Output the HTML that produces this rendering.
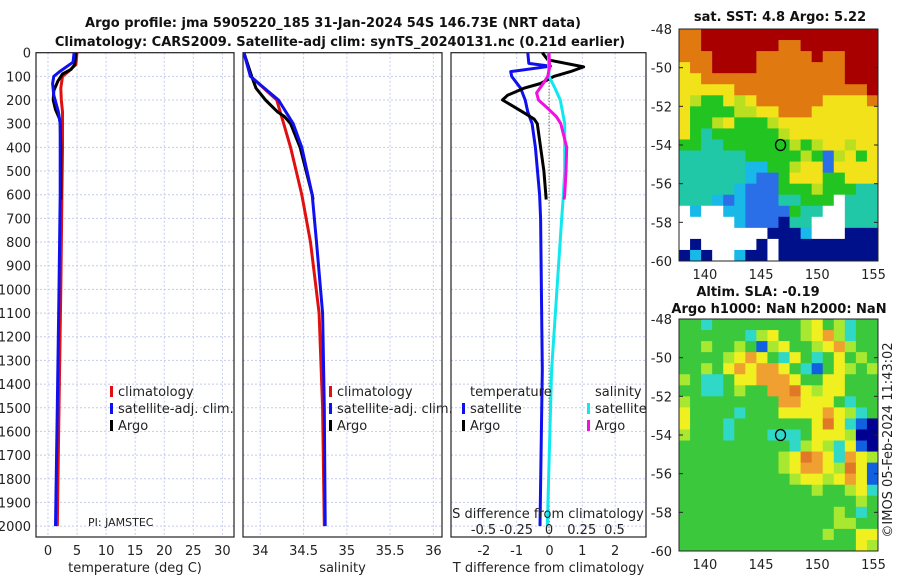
<!DOCTYPE html>
<html><head><meta charset="utf-8">
<style>
body{margin:0;background:#fff;}
svg{display:block;font-family:"DejaVu Sans","Liberation Sans",sans-serif;}
.t{font-size:13px;fill:#222}
.b{font-size:13px;font-weight:bold;fill:#111}
</style></head>
<body>
<svg id="s" width="900" height="580" viewBox="0 0 900 580">
<text class="b" x="333" y="27" text-anchor="middle">Argo profile: jma 5905220_185 31-Jan-2024 54S 146.73E (NRT data)</text>
<text class="b" x="340" y="46" text-anchor="middle">Climatology: CARS2009. Satellite-adj clim: synTS_20240131.nc (0.21d earlier)</text>
<text class="b" x="780" y="21" text-anchor="middle">sat. SST: 4.8 Argo: 5.22</text>
<text class="b" x="758" y="296" text-anchor="middle">Altim. SLA: -0.19</text>
<text class="b" x="779" y="313" text-anchor="middle">Argo h1000: NaN h2000: NaN</text>
<text class="t" transform="translate(892,440) rotate(-90)" text-anchor="middle">©IMOS 05-Feb-2024 11:43:02</text>
<g id="g"></g>
</svg>
<script>
// ---- data ----
const tDepth = [0,50,80,100,150,200,250,300,400,600,1000,1500,2000];
const tClim  = [5.0,4.8,3.5,2.5,2.2,2.3,2.5,2.5,2.5,2.4,2.2,1.9,1.6];
const tSatDepth = [0,40,80,100,130,180,250,300,600,1000,1500,2000];
const tSat   = [4.5,4.3,2.0,1.0,0.8,1.0,1.8,2.1,2.1,1.9,1.6,1.3];
const tArgoDepth = [0,50,70,90,120,160,200,240,280,300,400,620];
const tArgo  = [4.8,4.6,4.0,2.5,1.7,1.0,0.9,1.3,2.0,2.1,2.2,2.2];
const sDepth = [0,100,200,300,400,600,800,1100,1500,2000];
const sClim  = [33.81,33.89,34.19,34.27,34.35,34.48,34.58,34.68,34.72,34.74];
const sSat   = [33.81,33.885,34.21,34.38,34.48,34.6,34.65,34.72,34.74,34.75];
const sArgoDepth = [0,100,150,200,250,270,300,400,600,620];
const sArgo  = [33.81,33.9,33.95,34.06,34.2,34.28,34.35,34.46,34.6,34.61];
const dTSatDepth = [0,45,57,80,100,150,200,250,300,400,600,700,1340,2000];
const dTSat  = [-0.66,-0.63,0.03,-1.18,-1.15,-0.88,-0.74,-0.66,-0.53,-0.43,-0.3,-0.27,-0.22,-0.29];
const dTArgoDepth = [0,30,60,80,100,130,150,180,200,220,250,280,300,400,500,620];
const dTArgo = [-0.22,-0.05,1.04,0.64,0.13,-0.27,-0.78,-1.28,-1.43,-1.18,-0.82,-0.47,-0.37,-0.27,-0.17,-0.1];
const dSSatDepth = [0,100,150,200,300,500,600,700,1340,2000];
const dSSat  = [-0.005,0,0.046,0.086,0.12,0.12,0.11,0.097,0.02,-0.013];
const dSArgoDepth = [0,60,100,130,170,200,230,270,300,400,500,600,620];
const dSArgo = [0,0.005,-0.01,-0.044,-0.095,-0.08,-0.02,0.056,0.09,0.135,0.13,0.12,0.115];
const depthTicks = [0,100,200,300,400,500,600,700,800,900,1000,1100,1200,1300,1400,1500,1600,1700,1800,1900,2000];
const tTicks = [0,5,10,15,20,25,30];
const sTicks = [34,34.5,35,35.5,36];
const dTTicks = [-2,-1,0,1,2];
const dSTicks = [-0.5,-0.25,0,0.25,0.5];
const dSTickLabels = ["-0.5","-0.25","0","0.25","0.5"];
const latTicks = [-48,-50,-52,-54,-56,-58,-60];
const lonTicks = [140,145,150,155];
const argoLon = 146.73, argoLat = -54;
const sstGrid = [
"OORRRRRRRRRRRRRRRR","OORRRRRRROORRRRRRR","OOORRRROOOOOROORRR","YOORRRROOOOOOOORRR",
"YYOOOOOOOOOOOOORRR","YYYYYOOOOOOOOOOOOR","YLGGYLYOOOOOOYYYYO","YGGGGLLYYOOOYYYYYY",
"YGGLYGGGLYYYYYYYYY","YGTGGGGGGLYYYYYYYY","GGTTGGGGGGLGLYYLYY","TTTTTTGGGGGLGBLYGY",
"TTTTTTCCGGLYYBYYYY","TTTTTTCBBGYYYGGYYY","TTTTTCBBBGGGLGGGTT","TTTCBCBBBTTGGGWTTT",
"WCWWCCBBBBGTTWWTTT","WWWWWCBBBNTTWWWTTT","WWWWWWWWNNNCWWWNNN","WNWWWWWNWNNNNNNNNN",
"NCNWWCNNWNNNNNNNNN"];
const slaGrid = [
"GGCGGGGGGGGLYGLCGG","GGGGGGCLYGGLYOLCGG","GGLGGLGBLYGGLYOLGG","GGGGLYOYGCYGCGYGLG",
"GGLGYOYOOYGCBGYLGL","LGCCGYYOOOYGGYYGGG","GGCCGLGGOOAYLYYGGG","LGGGGGGGGOOYYYGCGG",
"YGGGGCGGGYYYYOYLCG","YGGGCGGGGGGGYAYCBN","LGGGCGGGCCCGYYYLNN","GGGGGGGGGGCLYLCYBN",
"GGGGGGGGGLYAOYCOYL","GGGGGGGGGLYOOYLAYB","GGGGGGGGGGLYYLYOYB","GGGGGGGGGGGGLGGLYC",
"GGGGGGGGGGGGGGGGLG","GGGGGGGGGGGGGGLGCG","GGGGGGGGGGGGGGLLGG","GGGGGGGGGGGGGLGGYY",
"GGGGGGGGGGGGGGGGYL"];
const sstColors = {R:"#a80000",O:"#e07a10",Y:"#f2e21a",L:"#b8e020",G:"#22c422",T:"#20c8a8",C:"#18b8e8",B:"#2a6ee8",N:"#00108a",W:"#ffffff"};
const slaColors = {G:"#3cc83c",L:"#a8e830",Y:"#f0f020",O:"#f0a030",A:"#e07828",C:"#30d8c8",B:"#1060e0",N:"#000090"};

const NS="http://www.w3.org/2000/svg";
const g=document.getElementById('g');
function el(t,a,p){const e=document.createElementNS(NS,t);for(const k in a)e.setAttribute(k,a[k]);(p||g).appendChild(e);return e;}
const Y0=52.7, YT=537, yD=d=>Y0+d*0.2367;

function panel(name,x0,x1,xmin,xmax,ticks,labels,title){
  const sx=v=>x0+(v-xmin)/(xmax-xmin)*(x1-x0);
  const pg=el('g',{});
  
  
  depthTicks.forEach(d=>{const l=el('line',{x1:x0,x2:x1,y1:yD(d),y2:yD(d),stroke:'#c4cbee','stroke-width':1,'stroke-dasharray':'2,2'},pg);
    });
  ticks.forEach((v,i)=>{const l=el('line',{x1:sx(v),x2:sx(v),y1:Y0,y2:YT,stroke:'#c4cbee','stroke-width':1,'stroke-dasharray':'2,2'},pg);
    
    const t=el('text',{x:sx(v),y:555,'text-anchor':'middle',class:'t'},pg);t.textContent=labels[i];
    });
  const r=el('rect',{x:x0,y:Y0,width:x1-x0,height:YT-Y0,fill:'none',stroke:'#222','stroke-width':1.2},pg);
  
  const tt=el('text',{x:(x0+x1)/2,y:572,'text-anchor':'middle',class:'t'},pg);tt.textContent=title;
  
  return sx;
}
function line(sx,ds,vs,color,name,w){
  const pts=ds.map((d,i)=>sx(vs[i]).toFixed(1)+','+yD(d).toFixed(1)).join(' ');
  const p=el('polyline',{points:pts,fill:'none',stroke:color,'stroke-width':w||3,'stroke-linejoin':'round'});
  
  
}
function legend(x,y,items){
  items.forEach((it,i)=>{
    if(it[1]){const m=el('rect',{x:x-8,y:y+i*17-10,width:3,height:11,fill:it[1]});
      }
    const t=el('text',{x:x,y:y+i*17,class:'t'});t.textContent=it[0];
    
  });
}
// y tick labels
depthTicks.forEach(d=>{const t=el('text',{x:31,y:yD(d)+5,'text-anchor':'end',class:'t'});t.textContent=d;
  });

const sx1=panel('temperature-panel',36,234,-2.06,32,tTicks,tTicks.map(String),'temperature (deg C)');
line(sx1,tDepth,tClim,'#e01010','temp-climatology-line');
line(sx1,tArgoDepth,tArgo,'#000','temp-argo-line');
line(sx1,tSatDepth,tSat,'#1010ee','temp-satellite-line');
legend(118,396,[["climatology","#e01010"],["satellite-adj. clim.","#1010ee"],["Argo","#000"]]);
const pi=el('text',{x:88,y:526,style:'font-size:11px;fill:#222'});pi.textContent='PI: JAMSTEC';


const sx2=panel('salinity-panel',243,442,33.8,36.1,sTicks,sTicks.map(String),'salinity');
line(sx2,sDepth,sClim,'#e01010','sal-climatology-line');
line(sx2,sArgoDepth,sArgo,'#000','sal-argo-line');
line(sx2,sDepth,sSat,'#1010ee','sal-satellite-line');
legend(337,396,[["climatology","#e01010"],["satellite-adj. clim.","#1010ee"],["Argo","#000"]]);

const sx3=panel('difference-panel',451,646,-3,2.94,dTTicks,dTTicks.map(String),'T difference from climatology');
const sxS=v=>549+v*131;
const z=el('line',{x1:549,x2:549,y1:Y0,y2:YT,stroke:'#444820','stroke-width':1,'stroke-dasharray':'1,2'});

line(sx3,dTSatDepth,dTSat,'#1010ee','dt-satellite-line');
line(sx3,dTArgoDepth,dTArgo,'#000','dt-argo-line');
line(sxS,dSSatDepth,dSSat,'#10e8f0','ds-satellite-line');
line(sxS,dSArgoDepth,dSArgo,'#f010e0','ds-argo-line');
legend(470,396,[["temperature",null],["satellite","#1010ee"],["Argo","#000"]]);
legend(595,396,[["salinity",null],["satellite","#10e8f0"],["Argo","#f010e0"]]);
const st=el('text',{x:548,y:518,'text-anchor':'middle',class:'t'});st.textContent='S difference from climatology';

dSTicks.forEach((v,i)=>{const t=el('text',{x:sxS(v),y:534,'text-anchor':'middle',class:'t'});t.textContent=dSTickLabels[i];
  });

function map(name,top,grid,colors){
  const X0=679,X1=878,bot=top+232,lon0=137.7,lon1=155.4;
  const mx=v=>X0+(v-lon0)/(lon1-lon0)*(X1-X0), my=v=>top+(-48-v)/12*(bot-top);
  const mg=el('g',{});
  
  
  const cw=(X1-X0)/grid[0].length, ch=(bot-top)/grid.length;
  grid.forEach((row,r)=>{for(let c=0;c<row.length;c++){
    el('rect',{x:(X0+c*cw).toFixed(2),y:(top+r*ch).toFixed(2),width:(cw+0.5).toFixed(2),height:(ch+0.5).toFixed(2),fill:colors[row[c]]},mg);}});
  const fr=el('rect',{x:X0,y:top,width:X1-X0,height:bot-top,fill:'none',stroke:'#222','stroke-width':1},mg);
  
  latTicks.forEach(v=>{const t=el('text',{x:672,y:my(v)+5,'text-anchor':'end',class:'t'},mg);t.textContent=v;
    
    el('line',{x1:X1-4,x2:X1,y1:my(v),y2:my(v),stroke:'#222'},mg);el('line',{x1:X0,x2:X0+4,y1:my(v),y2:my(v),stroke:'#222'},mg);});
  lonTicks.forEach(v=>{const t=el('text',{x:mx(v),y:bot+18,'text-anchor':'middle',class:'t'},mg);t.textContent=v;
    });
  const c=el('ellipse',{cx:mx(argoLon),cy:my(argoLat),rx:5,ry:5.5,fill:'none',stroke:'#000','stroke-width':1.3},mg);
  
}
map('sst-map',29,sstGrid,sstColors);
map('sla-map',319,slaGrid,slaColors);
</script>
</body></html>
